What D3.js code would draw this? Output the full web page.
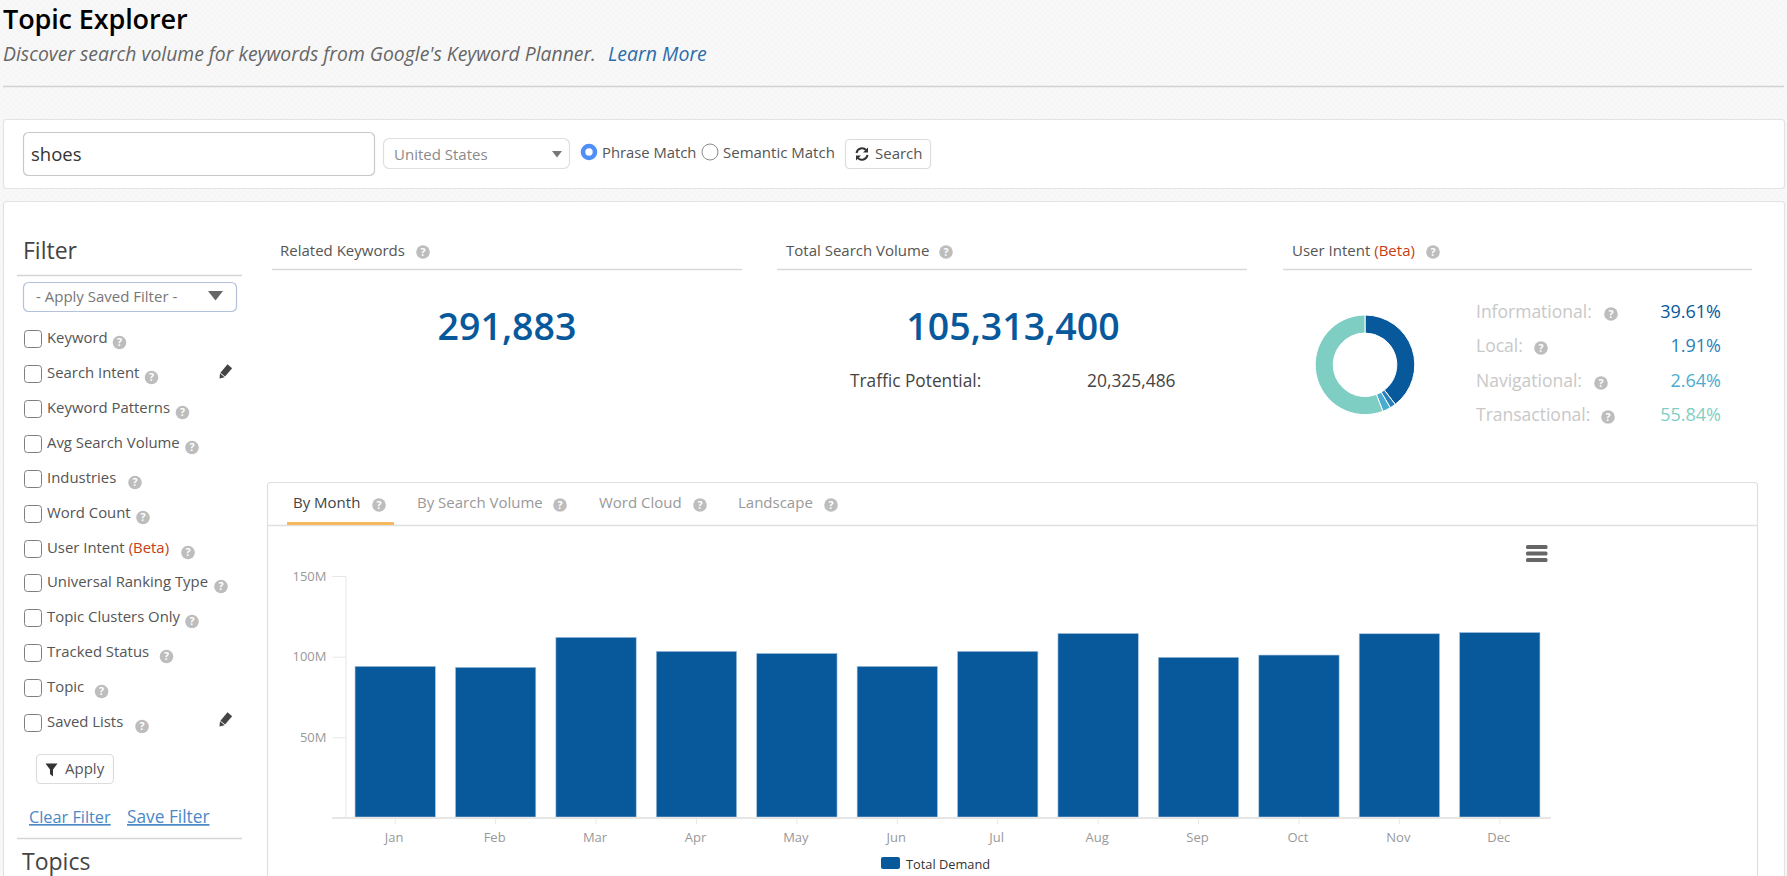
<!DOCTYPE html>
<html><head><meta charset="utf-8">
<script src="https://cdn.jsdelivr.net/npm/d3@7"></script>
<style>html,body{margin:0;padding:0;background:#f8f8f8;overflow:hidden}svg{display:block}text{font-family:"Open Sans",sans-serif}</style>
</head><body>
<script>
// ---- data ----
const months=["Jan","Feb","Mar","Apr","May","Jun","Jul","Aug","Sep","Oct","Nov","Dec"];
const demand=[94,93.4,112,103.3,102,94,103.3,114.4,99.6,101,114.2,115];
const yTicks=[50,100,150];
const intentLabels=["Informational:","Local:","Navigational:","Transactional:"];
const intentValues=[39.61,1.91,2.64,55.84];
const intentColors=["#08599c","#2a80ba","#4aaccf","#7fcec4"];
const filterLabels=["Keyword","Search Intent","Keyword Patterns","Avg Search Volume","Industries","Word Count","User Intent","Universal Ranking Type","Topic Clusters Only","Tracked Status","Topic","Saved Lists"];
const filterIconX=[119.5,151.5,182.5,192,135,143,188,221,192,166.5,101.6,142];
const tabLabels=["By Month","By Search Volume","Word Cloud","Landscape"];
const seriesName="Total Demand";

const W=1787,H=876;
const svg=d3.select("body").append("svg").attr("width",W).attr("height",H).attr("viewBox",`0 0 ${W} ${H}`);
const defs=svg.append("defs");
const pat=defs.append("pattern").attr("id","bg").attr("width",6).attr("height",6).attr("patternUnits","userSpaceOnUse");
pat.append("rect").attr("width",6).attr("height",6).attr("fill","#f8f8f8");
pat.append("rect").attr("x",0).attr("y",0).attr("width",3).attr("height",3).attr("fill","#f6f6f6");
pat.append("rect").attr("x",3).attr("y",3).attr("width",3).attr("height",3).attr("fill","#f6f6f6");
svg.append("rect").attr("width",W).attr("height",H).attr("fill","url(#bg)");

function txt(g,s,x,y,size,color,opt={}){
  const t=g.append("text").attr("x",x).attr("y",y).attr("font-size",size).attr("fill",color).text(s);
  if(opt.weight)t.attr("font-weight",opt.weight);
  if(opt.italic)t.attr("font-style","italic");
  if(opt.anchor)t.attr("text-anchor",opt.anchor);
  if(opt.underline)t.attr("text-decoration","underline");
  return t;
}
function box(x,y,w,h,r,fill,stroke,sw=1){
  return svg.append("rect").attr("x",x+.5).attr("y",y+.5).attr("width",w).attr("height",h).attr("rx",r).attr("fill",fill).attr("stroke",stroke).attr("stroke-width",sw);
}
function hline(x1,x2,y,color="#d9d9d9",sw=1.5){
  svg.append("line").attr("x1",x1).attr("x2",x2).attr("y1",y).attr("y2",y).attr("stroke",color).attr("stroke-width",sw);
}
function help(cx,cy){
  const g=svg.append("g");
  g.append("circle").attr("cx",cx).attr("cy",cy).attr("r",6.8).attr("fill","#bdbdbd");
  txt(g,"?",cx,cy+3.9,10.5,"#fff",{anchor:"middle",weight:700});
}
function pencil(cx,cy){
  const g=svg.append("g").attr("transform",`translate(${cx},${cy}) rotate(40)`);
  g.append("rect").attr("x",-3).attr("y",-7.5).attr("width",6).attr("height",11).attr("fill","#444");
  g.append("path").attr("d","M-3,4.2L3,4.2L0,8.5Z").attr("fill","#444");
}

// ---- header ----
txt(svg,"Topic Explorer",3,29,27,"#000",{weight:600}).attr("letter-spacing",-.12);
txt(svg,"Discover search volume for keywords from Google's Keyword Planner.",3,61,19.35,"#666",{italic:true});
txt(svg,"Learn More",608,61,19.5,"#2c6cab",{italic:true});
hline(3,1784,86.5,"#d2d2d2");

// ---- search card ----
box(3,119,1781,69,3,"#fff","#e3e3e3",1.2);
box(23,132,351,43,5,"#fff","#c8c8c8",1.2);
txt(svg,"shoes",31,161,18.5,"#333");
box(383,138,186,30,6,"#fff","#dfdfdf",1.2);
txt(svg,"United States",394,160,15,"#8a8a8a");
svg.append("path").attr("d","M552,151h10l-5,6.5Z").attr("fill","#777");
svg.append("circle").attr("cx",589).attr("cy",152).attr("r",6).attr("fill","#fff").attr("stroke","#4f8ff7").attr("stroke-width",4.6);
txt(svg,"Phrase Match",602,158,14.8,"#555");
svg.append("circle").attr("cx",710).attr("cy",152).attr("r",8).attr("fill","#fff").attr("stroke","#8c8c8c").attr("stroke-width",1);
txt(svg,"Semantic Match",723,158,15,"#555");
box(845,139,85,29,4,"#fff","#dcdcdc",1.2);
const ref=svg.append("g").attr("transform","translate(862,154)");
ref.append("path").attr("d","M-5.5,-1 A5.6,5.6 0 0 1 4.2,-3.8 M5.5,1 A5.6,5.6 0 0 1 -4.2,3.8").attr("fill","none").attr("stroke","#333").attr("stroke-width",2);
ref.append("path").attr("d","M6,-6.5V-1.5H1Z M-6,6.5V1.5H-1Z").attr("fill","#333");
txt(svg,"Search",875,159,15,"#555");

// ---- main card ----
box(3,201,1781,700,3,"#fff","#e3e3e3",1.2);
txt(svg,"Filter",23,259,23,"#444");
hline(17,242,275.5,"#d5d5d5");
box(23,282,213,29,5,"#fff","#b4c1dc",1.2);
txt(svg,"- Apply Saved Filter -",36,302,15,"#777");
svg.append("path").attr("d","M208,291h15l-7.5,9.5Z").attr("fill","#666");

const rowY=[330,365,400,435,470,505,540,574,609,644,679,714];
filterLabels.forEach((s,i)=>{
  const y=rowY[i];
  box(24,y,17,17,3,"#fff","#7f7f7f",1);
  const t=txt(svg,s,47,y+13,14.9,"#555");
  if(s==="User Intent"){
    t.append("tspan").attr("dx",4).attr("fill","#c63c12").text("(Beta)");
  }
  help(filterIconX[i],y+12.5);
});
pencil(225,372);pencil(225,720);

box(36,754,77,29,4,"#fff","#dcdcdc",1.2);
svg.append("path").attr("d","M45.5,763.5h12l-4.5,6v7l-3,-2.4v-4.6Z").attr("fill","#333");
txt(svg,"Apply",65,774,15,"#555");
txt(svg,"Clear Filter",29,823,16.3,"#4a88c7",{underline:true});
txt(svg,"Save Filter",127,823,17.3,"#4a88c7",{underline:true});
hline(17,242,838.5,"#d5d5d5");
txt(svg,"Topics",22,870,23,"#444");

// ---- stat headers ----
txt(svg,"Related Keywords",280,256,15,"#555");help(423,252);hline(272,742,269.5);
txt(svg,"Total Search Volume",786,256,15,"#555");help(946,252);hline(777,1247,269.5);
const ui=txt(svg,"User Intent",1292,256,15,"#555");
ui.append("tspan").attr("dx",4).attr("fill","#c63c12").text("(Beta)");
help(1433,252);hline(1283,1752,269.5);

txt(svg,"291,883",507,340,37.5,"#08599c",{anchor:"middle",weight:600});
txt(svg,"105,313,400",1013,340,37.5,"#08599c",{anchor:"middle",weight:600});
txt(svg,"Traffic Potential:",850,387,17.3,"#444");
txt(svg,"20,325,486",1087,387,17.4,"#444");

// ---- donut ----
const pie=d3.pie().sort(null).value(d=>d);
const arc=d3.arc().innerRadius(31.8).outerRadius(49.8);
svg.append("g").attr("transform","translate(1365,364.8)")
  .selectAll("path").data(pie(intentValues)).join("path")
  .attr("d",arc).attr("fill",(d,i)=>intentColors[i]).attr("stroke","#fff").attr("stroke-width",1);
const legY=[318,352,387,421];
const legIcon=[1611,1541,1601,1608];
intentLabels.forEach((s,i)=>{
  txt(svg,s,1476,legY[i],17.5,"#c8c8c8");
  help(legIcon[i],legY[i]-4);
  txt(svg,intentValues[i].toFixed(2)+"%",1721,legY[i],18,intentColors[i],{anchor:"end"});
});

// ---- tab panel ----
box(267,482,1490,500,3,"#fff","#e0e0e0",1.2);
hline(268,1757,525.5,"#e0e0e0");
svg.append("rect").attr("x",287).attr("y",522).attr("width",107).attr("height",3).attr("fill","#f5b95f");
const tabX=[293,417,599,738],tabIcon=[379,560,700,831];
tabLabels.forEach((s,i)=>{
  txt(svg,s,tabX[i],508,15,i===0?"#444":"#999");
  help(tabIcon[i],505);
});

// ---- chart ----
const x=d3.scaleBand().domain(months).range([345,1550]).paddingInner(.2).paddingOuter(.1);
const y=d3.scaleLinear().domain([0,150]).range([818,576]);
const chart=svg.append("g");
chart.selectAll("rect.bar").data(demand).join("rect").attr("class","bar")
  .attr("x",(d,i)=>x(months[i])).attr("width",x.bandwidth())
  .attr("y",d=>y(d)).attr("height",d=>y(0)-y(d)-1)
  .attr("fill","#08599c").attr("stroke","#a9c3dd").attr("stroke-width",.6);

const ax=chart.append("g").attr("transform","translate(0,818)").call(d3.axisBottom(x).tickSize(6).tickPadding(8.5));
ax.select(".domain").remove();
ax.selectAll(".tick line").attr("stroke","#e6e6e6");
ax.selectAll("text").attr("font-size",13).attr("fill","#999").attr("font-family",'"Open Sans",sans-serif').attr("dx",-1);
chart.append("line").attr("x1",332).attr("x2",1551).attr("y1",818).attr("y2",818).attr("stroke","#e6e6e6").attr("stroke-width",2);

const ay=chart.append("g").attr("transform","translate(345.5,0)").call(d3.axisLeft(y).tickValues(yTicks).tickFormat(d=>d+"M").tickSize(13).tickPadding(6));
ay.select(".domain").attr("stroke","#e6e6e6");
ay.selectAll(".tick line").attr("stroke","#e6e6e6");
ay.selectAll("text").attr("font-size",13).attr("fill","#999").attr("font-family",'"Open Sans",sans-serif');

svg.append("rect").attr("x",881).attr("y",857).attr("width",19).attr("height",12).attr("rx",2).attr("fill","#08599c");
txt(svg,seriesName,906,869,12.8,"#333");

// menu icon
[545,551.5,558].forEach(yy=>svg.append("rect").attr("x",1526).attr("y",yy).attr("width",21.5).attr("height",4).attr("rx",1.5).attr("fill","#666"));
</script>
</body></html>
